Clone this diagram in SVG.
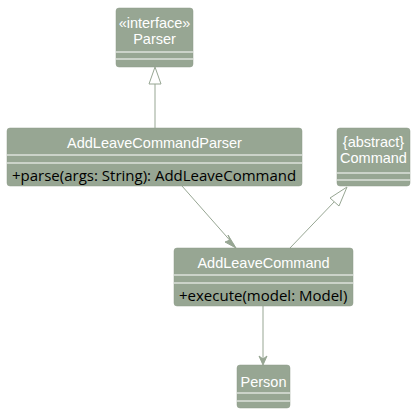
<svg xmlns="http://www.w3.org/2000/svg" width="416" height="416" viewBox="0 0 416 416">
<style>
.box{fill:#97a693;stroke:#8c9b88;stroke-width:0.5}
.sep{stroke:#ffffff;stroke-width:1}
.t{font-family:"Liberation Sans",Arial,sans-serif;font-size:14.5px;fill:#ffffff;text-anchor:middle}
.m{font-family:"Open Sans","DejaVu Sans",sans-serif;font-size:15px;fill:#000000}
.c{stroke:#97a693;stroke-width:1;fill:none}
</style>
<rect width="416" height="416" fill="#ffffff"/>
<g id="connectors">
<line class="c" x1="155" y1="128" x2="155" y2="84"/>
<polygon points="155,67 149,84 161,84" fill="#ffffff" stroke="#97a693" stroke-width="1"/>
<line class="c" x1="182" y1="186" x2="234" y2="245"/>
<polygon points="236,248 225,242 230,240 228,235" fill="#97a693" stroke="#97a693" stroke-width="1"/>
<line class="c" x1="290" y1="248" x2="335" y2="201"/>
<polygon points="347,187 330,198 339,206" fill="#ffffff" stroke="#97a693" stroke-width="1"/>
<line class="c" x1="263" y1="306" x2="263" y2="363"/>
<polygon points="263,365 259,356 263,359 267,356" fill="#97a693" stroke="#97a693" stroke-width="1"/>
</g>
<g id="Parser">
<rect class="box" x="116" y="8" width="77" height="59" rx="3"/>
<text class="t" x="154.5" y="28">«interface»</text>
<text class="t" x="154.5" y="44">Parser</text>
<line class="sep" x1="116" y1="52" x2="193" y2="52"/>
<line class="sep" x1="116" y1="59" x2="193" y2="59"/>
</g>
<g id="AddLeaveCommandParser">
<rect class="box" x="7" y="128" width="295" height="58" rx="3"/>
<text class="t" x="154.5" y="148">AddLeaveCommandParser</text>
<line class="sep" x1="7" y1="155" x2="302" y2="155"/>
<line class="sep" x1="7" y1="163" x2="302" y2="163"/>
<text class="m" x="12" y="181">+parse(args: String): AddLeaveCommand</text>
</g>
<g id="Command">
<rect class="box" x="337" y="128" width="73" height="58" rx="3"/>
<text class="t" x="373.5" y="147">{abstract}</text>
<text class="t" x="373.5" y="163">Command</text>
<line class="sep" x1="337" y1="173" x2="410" y2="173"/>
<line class="sep" x1="337" y1="180" x2="410" y2="180"/>
</g>
<g id="AddLeaveCommand">
<rect class="box" x="174" y="248" width="179" height="58" rx="3"/>
<text class="t" x="263.5" y="268">AddLeaveCommand</text>
<line class="sep" x1="174" y1="275" x2="353" y2="275"/>
<line class="sep" x1="174" y1="283" x2="353" y2="283"/>
<text class="m" x="179" y="301">+execute(model: Model)</text>
</g>
<g id="Person">
<rect class="box" x="237" y="365" width="53" height="43" rx="3"/>
<text class="t" x="263.5" y="387">Person</text>
<line class="sep" x1="237" y1="393" x2="290" y2="393"/>
<line class="sep" x1="237" y1="401" x2="290" y2="401"/>
</g>
</svg>
